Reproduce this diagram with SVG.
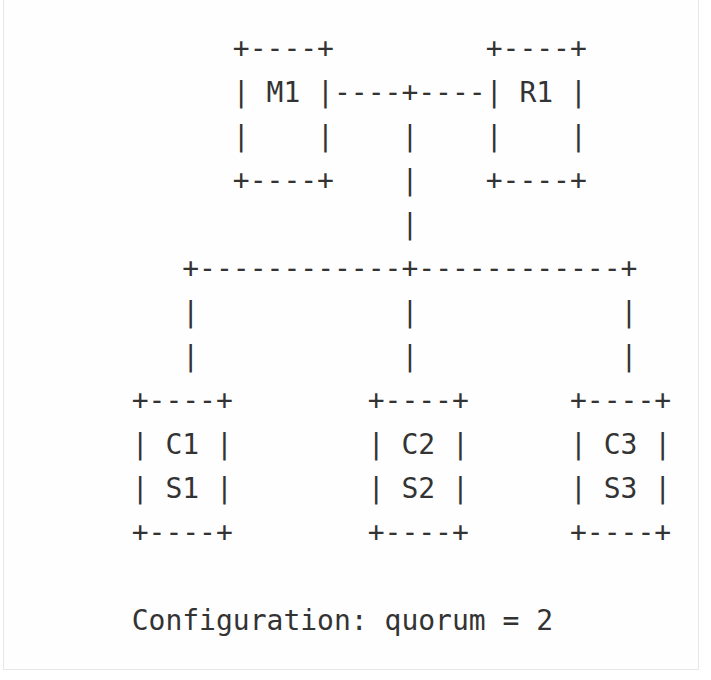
<svg xmlns="http://www.w3.org/2000/svg" width="711" height="680" viewBox="0 0 711 680">
<style>
text{font-family:"DejaVu Sans Mono","Liberation Mono",monospace;font-size:28px;fill:#333;white-space:pre}
</style>
<rect x="0" y="0" width="711" height="680" fill="#ffffff"/>
<rect x="3.5" y="-2" width="695" height="671.5" fill="#fefefe" stroke="#e8e8e8" stroke-width="1"/>
<g id="connectors">
<text x="333.98" y="101.7" xml:space="preserve">----+----</text>
<text x="401.41" y="145.7">|</text>
<text x="401.41" y="189.7">|</text>
<text x="401.41" y="233.7">|</text>
<text x="182.27" y="277.7" xml:space="preserve">+------------+------------+</text>
<text x="182.27" y="321.7">|</text>
<text x="401.41" y="321.7">|</text>
<text x="620.55" y="321.7">|</text>
<text x="182.27" y="365.7">|</text>
<text x="401.41" y="365.7">|</text>
<text x="620.55" y="365.7">|</text>
</g>
<g id="M1">
<text x="232.84" y="57.7" xml:space="preserve">+----+</text>
<text x="232.84" y="101.7" xml:space="preserve">| M1 |</text>
<text x="232.84" y="145.7" xml:space="preserve">|    |</text>
<text x="232.84" y="189.7" xml:space="preserve">+----+</text>
</g>
<g id="R1">
<text x="485.70" y="57.7" xml:space="preserve">+----+</text>
<text x="485.70" y="101.7" xml:space="preserve">| R1 |</text>
<text x="485.70" y="145.7" xml:space="preserve">|    |</text>
<text x="485.70" y="189.7" xml:space="preserve">+----+</text>
</g>
<g id="C1">
<text x="131.7" y="409.7" xml:space="preserve">+----+</text>
<text x="131.7" y="453.7" xml:space="preserve">| C1 |</text>
<text x="131.7" y="497.7" xml:space="preserve">| S1 |</text>
<text x="131.7" y="541.7" xml:space="preserve">+----+</text>
</g>
<g id="C2">
<text x="367.70" y="409.7" xml:space="preserve">+----+</text>
<text x="367.70" y="453.7" xml:space="preserve">| C2 |</text>
<text x="367.70" y="497.7" xml:space="preserve">| S2 |</text>
<text x="367.70" y="541.7" xml:space="preserve">+----+</text>
</g>
<g id="C3">
<text x="570.0" y="409.7" xml:space="preserve">+----+</text>
<text x="570.0" y="453.7" xml:space="preserve">| C3 |</text>
<text x="570.0" y="497.7" xml:space="preserve">| S3 |</text>
<text x="570.0" y="541.7" xml:space="preserve">+----+</text>
</g>
<g id="config">
<text x="131.7" y="629.7" xml:space="preserve">Configuration: quorum = 2</text>
</g>
</svg>
